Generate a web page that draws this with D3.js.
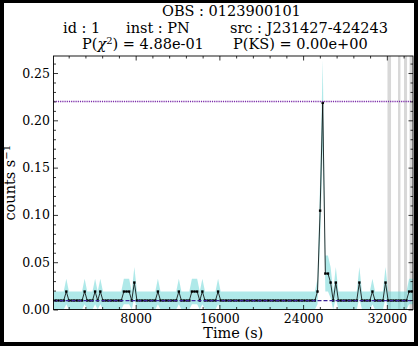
<!DOCTYPE html>
<html>
<head>
<meta charset="utf-8">
<script src="https://cdn.jsdelivr.net/npm/d3@7"></script>
<style>
  html, body { margin: 0; padding: 0; background: #000; }
  svg { display: block; }
  text { font-family: "DejaVu Serif", serif; fill: #000; }
</style>
</head>
<body>
<div id="chart"></div>
<script>
// light curve: counts per time bin, bins are 250 s wide
const binSize = 250;
const firstBin = 125;
const countRate = 0.0095;   // count/s for a single count in one bin
const binCounts = [
  1, 1, 1, 1, 1, 2, 1, 1, 1, 1, 1, 1, 2, 1, 1, 1, 2, 1, 2, 1,
  1, 1, 1, 1, 1, 1, 1, 2, 2, 2, 1, 3, 1, 1, 1, 1, 1, 1, 1, 1,
  2, 1, 1, 1, 1, 1, 1, 1, 2, 1, 1, 1, 1, 2, 2, 2, 1, 2, 1, 1,
  1, 1, 1, 2, 1, 1, 1, 1, 1, 1, 1, 1, 1, 1, 1, 1, 1, 1, 1, 1,
  1, 1, 1, 1, 1, 1, 1, 1, 1, 1, 1, 1, 1, 1, 1, 1, 1, 1, 1, 1,
  1, 2, 11, 23, 4, 4, 3, 1, 3, 1, 1, 1, 1, 1, 1, 1, 1, 3, 1, 1,
  1, 1, 2, 1, 1, 1, 1, 3, 1, 1, 1, 1, 1, 1, 1, 1, 2, 2, 2
];
const meanRate = 0.0093;
const maxRate = 0.22;
const badTimes = [[32060, 32400], [33070, 33300], [33640, 33930], [34170, 34450]];

const xMajor = [8000, 16000, 24000, 32000];
const yMajor = [0, 0.05, 0.10, 0.15, 0.20, 0.25];

const W = 418, H = 346;
const plotL = 53.5, plotR = 413, plotT = 56, plotB = 309.5;

const svg = d3.select('#chart').append('svg')
  .attr('width', W)
  .attr('height', H);

// window frame
svg.append('rect').attr('width', W).attr('height', H).attr('fill', '#000');
svg.append('rect').attr('x', 4).attr('y', 3).attr('width', 410).attr('height', 339).attr('fill', '#fff');

const x = d3.scaleLinear().domain([150, 34500]).range([plotL, plotR]);
const y = d3.scaleLinear().domain([0, 0.268]).range([plotB, plotT]);

const data = binCounts.map((c, i) => ({
  t: firstBin + i * binSize,
  rate: c * countRate,
  err: Math.sqrt(c) * countRate
}));

svg.append('clipPath').attr('id', 'plot')
  .append('rect')
  .attr('x', plotL).attr('y', plotT)
  .attr('width', plotR - plotL).attr('height', plotB - plotT);

const g = svg.append('g').attr('clip-path', 'url(#plot)');

// bad time intervals
g.selectAll('.bad')
  .data(badTimes)
  .enter()
  .append('rect')
  .attr('x', d => x(d[0]))
  .attr('y', plotT)
  .attr('width', d => x(d[1]) - x(d[0]))
  .attr('height', plotB - plotT)
  .attr('fill', '#a8a8a8')
  .attr('opacity', 0.45);

// error band
const band = d3.area()
  .x(d => x(d.t))
  .y0(d => y(Math.max(0, d.rate - d.err)))
  .y1(d => y(d.rate + d.err));

g.append('path')
  .datum(data)
  .attr('d', band)
  .attr('fill', '#5fd3d3')
  .attr('opacity', 0.5);

// light curve
const line = d3.line()
  .x(d => x(d.t))
  .y(d => y(d.rate));

g.append('path')
  .datum(data)
  .attr('d', line)
  .attr('fill', 'none')
  .attr('stroke', '#000')
  .attr('stroke-width', 0.8);

const ms = 2.4;
g.selectAll('.pt')
  .data(data)
  .enter()
  .append('rect')
  .attr('x', d => x(d.t) - ms / 2)
  .attr('y', d => y(d.rate) - ms / 2)
  .attr('width', ms)
  .attr('height', ms)
  .attr('fill', '#000');

// mean and maximum levels
g.append('line')
  .attr('x1', plotL).attr('x2', plotR)
  .attr('y1', y(meanRate)).attr('y2', y(meanRate))
  .attr('stroke', '#3a1f96')
  .attr('stroke-width', 1.3)
  .attr('stroke-dasharray', '4,2');

g.append('line')
  .attr('x1', plotL).attr('x2', plotR)
  .attr('y1', y(maxRate)).attr('y2', y(maxRate))
  .attr('stroke', '#7a2aa8')
  .attr('stroke-width', 1.5)
  .attr('stroke-dasharray', '1.2,1');

// axes, ticks pointing inwards on all four sides
const xMinor = d3.range(0, 34500, 1600).filter(v => v % 8000 !== 0);
const yMinor = d3.range(0, 0.27, 0.01).filter(v => Math.round(v * 100) % 5 !== 0);

function axisGroup(axis, tx, ty) {
  const a = svg.append('g')
    .attr('transform', `translate(${tx},${ty})`)
    .call(axis);
  a.select('.domain').remove();
  a.selectAll('line').attr('stroke', '#000').attr('stroke-width', 0.8);
  a.selectAll('text')
    .style('font-family', '"DejaVu Serif", serif')
    .style('font-size', '12.5px')
    .attr('fill', '#000');
  return a;
}

axisGroup(d3.axisBottom(x).tickValues(xMajor).tickSize(-4.5).tickPadding(5).tickFormat(d3.format('d')), 0, plotB);
axisGroup(d3.axisBottom(x).tickValues(xMinor).tickSize(-2.5).tickFormat(''), 0, plotB);
axisGroup(d3.axisTop(x).tickValues(xMajor).tickSize(-4.5).tickFormat(''), 0, plotT);
axisGroup(d3.axisTop(x).tickValues(xMinor).tickSize(-2.5).tickFormat(''), 0, plotT);

axisGroup(d3.axisLeft(y).tickValues(yMajor).tickSize(-4.5).tickPadding(3.5).tickFormat(d3.format('.2f')), plotL, 0);
axisGroup(d3.axisLeft(y).tickValues(yMinor).tickSize(-2.5).tickFormat(''), plotL, 0);
axisGroup(d3.axisRight(y).tickValues(yMajor).tickSize(-4.5).tickFormat(''), plotR, 0);
axisGroup(d3.axisRight(y).tickValues(yMinor).tickSize(-2.5).tickFormat(''), plotR, 0);

svg.append('rect')
  .attr('x', plotL).attr('y', plotT)
  .attr('width', plotR - plotL).attr('height', plotB - plotT)
  .attr('fill', 'none')
  .attr('stroke', '#000')
  .attr('stroke-width', 0.9);

// axis titles
svg.append('text')
  .attr('x', (plotL + plotR) / 2)
  .attr('y', 338)
  .attr('text-anchor', 'middle')
  .style('font-size', '14.5px')
  .text('Time (s)');

const yl = svg.append('text')
  .attr('transform', `translate(14.5,${(plotT + plotB) / 2}) rotate(-90)`)
  .attr('text-anchor', 'middle')
  .style('font-size', '14.5px');
yl.append('tspan').text('counts s');
yl.append('tspan').attr('dy', -5).style('font-size', '10px').text('\u22121');

// title
const title = svg.append('g').style('font-size', '14.5px');
title.append('text').attr('x', 162).attr('y', 16).text('OBS : 0123900101');
title.append('text').attr('x', 63).attr('y', 32.5).text('id : 1');
title.append('text').attr('x', 126).attr('y', 32.5).text('inst : PN');
title.append('text').attr('x', 230).attr('y', 32.5).text('src : J231427-424243');

const chi = title.append('text').attr('x', 82).attr('y', 48.5);
chi.append('tspan').text('P(');
chi.append('tspan').style('font-style', 'italic').text('\u03c7');
chi.append('tspan').attr('dy', -5).style('font-size', '10px').text('2');
chi.append('tspan').attr('dy', 5).text(') = 4.88e-01');
title.append('text').attr('x', 233).attr('y', 48.5).text('P(KS) = 0.00e+00');
</script>
</body>
</html>
